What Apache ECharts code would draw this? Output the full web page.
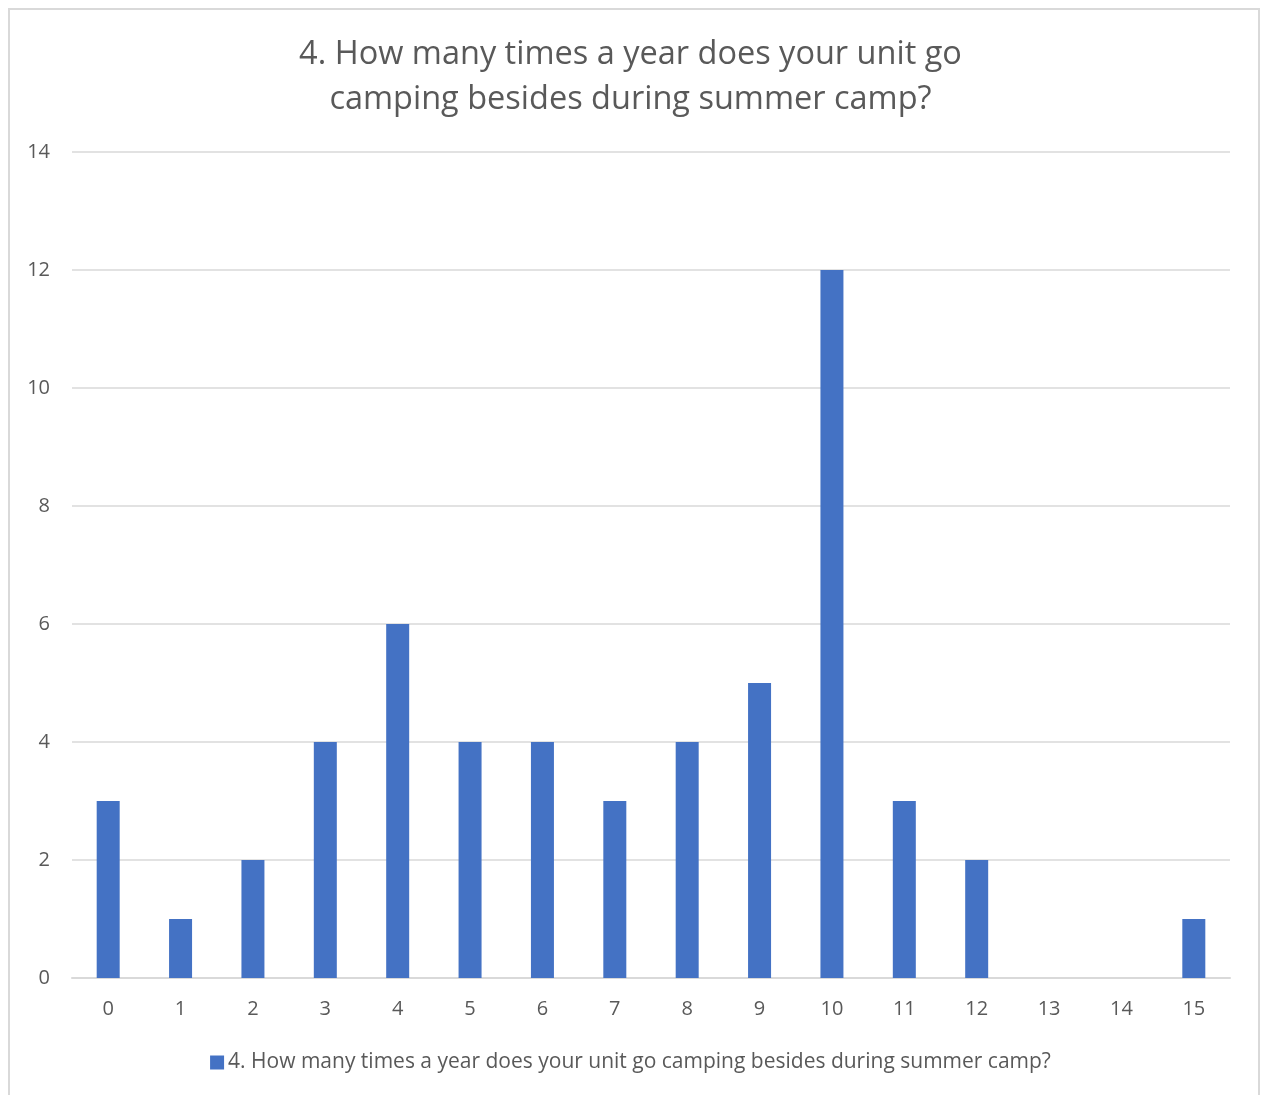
<!DOCTYPE html>
<html>
<head>
<meta charset="utf-8">
<script src="https://cdn.jsdelivr.net/npm/echarts@6/dist/echarts.min.js"></script>
<style>
  html, body { margin: 0; padding: 0; background: #fff; }
  #frame {
    position: absolute; left: 8px; top: 8px; width: 1252px; height: 1100px;
    border: 2px solid #d9d9d9; box-sizing: border-box;
  }
  #chart { position: absolute; left: 0; top: 0; width: 1261px; height: 1095px; }
</style>
</head>
<body>
<div id="frame"></div>
<div id="chart"></div>
<script>
  // 数据
  const categories = ['0', '1', '2', '3', '4', '5', '6', '7', '8', '9', '10', '11', '12', '13', '14', '15'];
  const counts = [3, 1, 2, 4, 6, 4, 4, 3, 4, 5, 12, 3, 2, 0, 0, 1];
  const seriesName = '4. How many times a year does your unit go camping besides during summer camp?';
  const titleLines = ['4. How many times a year does your unit go', 'camping besides during summer camp?'];

  const font = '"Open Sans", "Noto Sans", sans-serif';
  const textColor = '#595959';

  const chart = echarts.init(document.getElementById('chart'));

  chart.setOption({
    animation: false,
    title: {
      text: titleLines.join('\n'),
      left: 'center',
      top: 27,
      textStyle: {
        fontFamily: font,
        fontSize: 32.5,
        fontWeight: 'normal',
        color: textColor,
        lineHeight: 45
      }
    },
    grid: {
      left: 72,
      right: 31,
      top: 152,
      bottom: 117
    },
    legend: {
      data: [seriesName],
      bottom: 17,
      left: 'center',
      icon: 'rect',
      itemWidth: 14,
      itemHeight: 14,
      itemGap: 5,
      textStyle: {
        fontFamily: font,
        fontSize: 21,
        color: textColor,
        padding: [0, 0, 0, -1]
      }
    },
    xAxis: {
      type: 'category',
      data: categories,
      axisLine: { lineStyle: { color: '#d9d9d9', width: 2 } },
      axisTick: { show: false },
      axisLabel: {
        margin: 21,
        fontFamily: font,
        fontSize: 20,
        color: textColor
      }
    },
    yAxis: {
      type: 'value',
      min: 0,
      max: 14,
      interval: 2,
      axisLine: { show: false },
      axisTick: { show: false },
      splitLine: { lineStyle: { color: '#d9d9d9', width: 1.5 } },
      axisLabel: {
        margin: 22,
        fontFamily: font,
        fontSize: 20,
        color: textColor
      }
    },
    series: [{
      name: seriesName,
      type: 'bar',
      data: counts,
      barWidth: 23,
      itemStyle: { color: '#4472c4' }
    }]
  });
</script>
</body>
</html>
